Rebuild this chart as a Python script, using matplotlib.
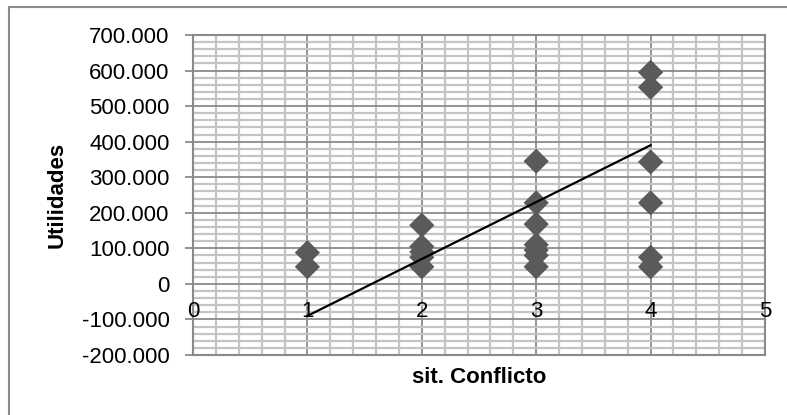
import matplotlib
matplotlib.use("Agg")
import matplotlib.pyplot as plt
from matplotlib.ticker import MultipleLocator, FixedLocator
from matplotlib.patches import Rectangle

plt.rcParams['font.family'] = ['Liberation Sans', 'DejaVu Sans']

# utilidades por nivel de situación de conflicto
sit_conflicto = [1, 1,
                 2, 2, 2, 2, 2,
                 3, 3, 3, 3, 3, 3, 3,
                 4, 4, 4, 4, 4, 4]
utilidades = [88000, 48000,
              165000, 105000, 90000, 75000, 48000,
              345000, 228000, 168000, 110000, 95000, 80000, 48000,
              595000, 553000, 343000, 228000, 75000, 48000]

# línea de tendencia
tendencia_x = [1, 4]
tendencia_y = [-90000, 390000]

x_ticks = [0, 1, 2, 3, 4, 5]
x_tick_labels = ['0', '1', '2', '3', '4', '5']
y_ticks = [-200000, -100000, 0, 100000, 200000, 300000, 400000, 500000, 600000, 700000]
y_tick_labels = ['-200.000', '-100.000', '0', '100.000', '200.000', '300.000',
                 '400.000', '500.000', '600.000', '700.000']

W, H = 787, 415
FS = 16
fig = plt.figure(figsize=(W / 100, H / 100), dpi=100)
ax = fig.add_axes([193 / W, 1 - 355 / H, (765 - 193) / W, (355 - 35) / H])

ax.set_xlim(0, 5)
ax.set_ylim(-200000, 700000)

# cuadrícula principal y secundaria
ax.xaxis.set_major_locator(FixedLocator(x_ticks))
ax.yaxis.set_major_locator(FixedLocator(y_ticks))
ax.xaxis.set_minor_locator(MultipleLocator(0.2))
ax.yaxis.set_minor_locator(MultipleLocator(20000))
ax.grid(which='minor', color='#c4c4c4', linewidth=1.6, zorder=0)
ax.grid(which='major', color='#8a8a8a', linewidth=1.3, zorder=0)
ax.set_axisbelow(True)

for s in ax.spines.values():
    s.set_color('#8a8a8a')
    s.set_linewidth(1.5)

ax.set_yticklabels(y_tick_labels, fontsize=FS)
ax.tick_params(axis='y', which='major', direction='out', length=6, width=1.3,
               color='#8a8a8a', pad=11)
ax.tick_params(axis='both', which='minor', length=0)
ax.tick_params(axis='x', which='major', length=0, labelbottom=False)

# etiquetas del eje x sobre la línea de cero
for xv, lab in zip(x_ticks, x_tick_labels):
    ax.text(xv, -79000, lab, ha='center', va='center', fontsize=FS, clip_on=False)

ax.scatter(sit_conflicto, utilidades, marker='D', s=165, color='#5a5a5a',
           edgecolors='none', zorder=3)
ax.plot(tendencia_x, tendencia_y, color='black', linewidth=1.6, zorder=4)

ax.set_xlabel('sit. Conflicto', fontsize=FS, fontweight='bold', labelpad=5)
ax.set_ylabel('Utilidades', fontsize=FS, fontweight='bold', labelpad=10)

# borde del área del gráfico
fig.add_artist(Rectangle((9 / W, -0.5), 2, 0.5 + 1 - 7 / H, transform=fig.transFigure,
                         fill=False, edgecolor='#8a8a8a', linewidth=1.5))
fig.text(390 / W, 1 - 3 / H, 'Gráfico Utilidades vs Sit. Conflicto de Intereses',
         ha='center', va='bottom', fontsize=FS, fontweight='bold')

fig.savefig('out.png', dpi=100)
